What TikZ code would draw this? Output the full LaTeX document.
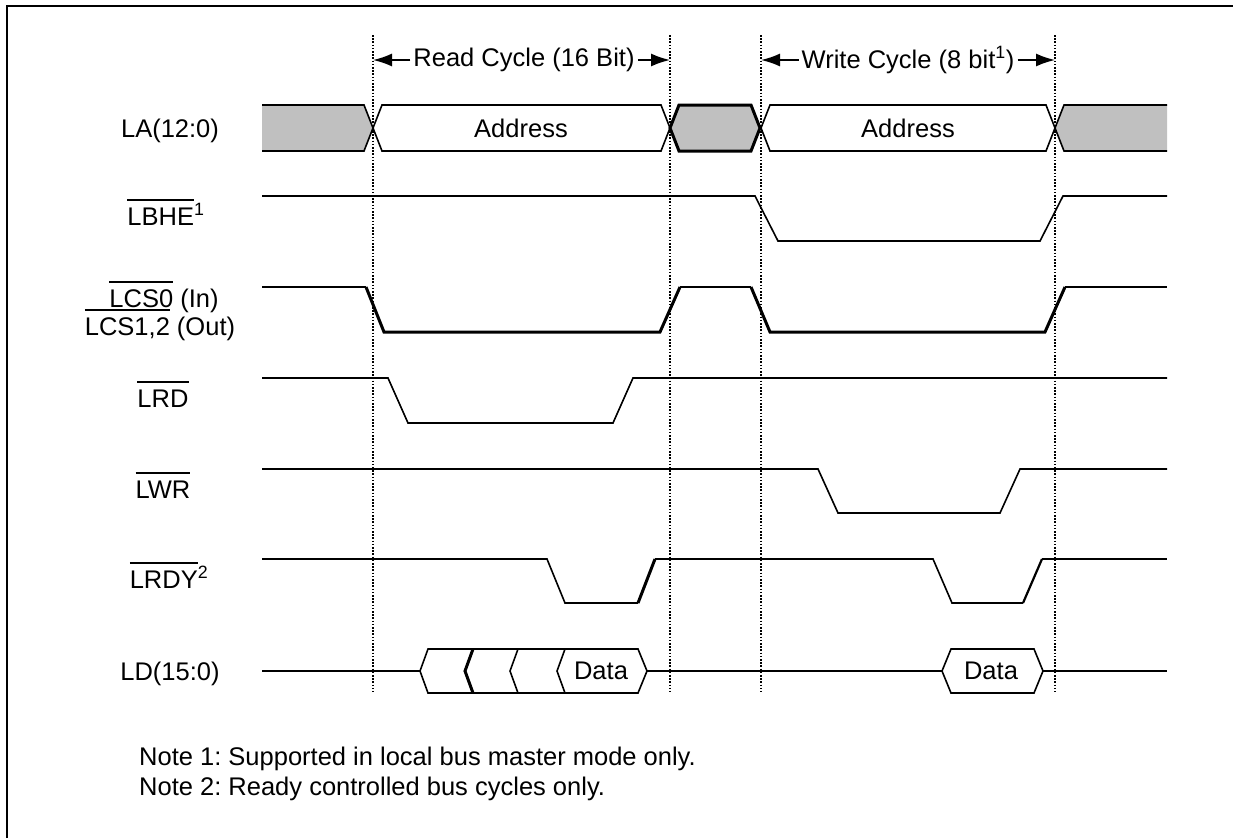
\documentclass[tikz,border=0pt]{standalone}
\usepackage{fontspec}
\setmainfont{Liberation Sans}
\usetikzlibrary{arrows.meta, positioning}

\definecolor{busgray}{RGB}{192,192,192}
\newcommand{\nbar}[1]{\setbox0\hbox{#1}\rlap{\rule[0.96em]{\wd0}{1.5pt}}\box0\relax}

\tikzset{
  sig/.style={line width=1.6pt},
  heavy/.style={line width=3pt},
  cycleline/.style={line width=1.6pt, dash pattern=on 1.6pt off 1.6pt},
  span/.style={line width=1.6pt, -{Latex[length=19pt,width=13pt]}},
  every node/.style={font=\fontsize{25.5}{28}\selectfont\frenchspacing, inner sep=3pt},
  siglabel/.style={anchor=base},
}

\begin{document}
\begin{tikzpicture}[x=1pt, y=-1pt]
    \useasboundingbox (0,0) rectangle (1233,838);
    \draw[line width=2pt] (7,838) -- (7,6) -- (1233,6);

    % cycle boundaries
    \foreach \x in {373, 670, 761, 1055}
        \draw[cycleline] (\x,35) -- (\x,692);

    \node (read) at (524,60) {Read Cycle (16 Bit)};
    \node (write) at (908,60) {Write Cycle (8 bit\textsuperscript{1})};
    \coordinate (r0) at (373,60);
    \coordinate (r1) at (670,60);
    \coordinate (w0) at (761,60);
    \coordinate (w1) at (1055,60);
    \draw[span] (read) -- (r0);
    \draw[span] (read) -- (r1);
    \draw[span] (write) -- (w0);
    \draw[span] (write) -- (w1);

    % signal names
    \node[siglabel] (la) at (170,137) {LA(12:0)};
    \node[siglabel] (lbhe) at (166,225) {\nbar{LBHE}\textsuperscript{1}};
    \node[siglabel] (lcs) at (164,307) {\nbar{LCS0} (In)};
    \node[siglabel] (lcsb) at (160,335) {\nbar{LCS1,2} (Out)};
    \node[siglabel] (lrd) at (163,407) {\nbar{LRD}};
    \node[siglabel] (lwr) at (163,498) {\nbar{LWR}};
    \node[siglabel] (lrdy) at (169,588) {\nbar{LRDY}\textsuperscript{2}};
    \node[siglabel] (ld) at (170,680) {LD(15:0)};

    % LA(12:0)
    \fill[busgray] (262,105) -- (364,105) -- (373,128) -- (364,151) -- (262,151) -- cycle;
    \draw[sig] (262,105) -- (364,105) -- (373,128) -- (364,151) -- (262,151);
    \draw[sig] (373,128) -- (382,105) -- (661,105) -- (670,128) -- (661,151) -- (382,151) -- cycle;
    \node (addr1) at (521,128) {Address};
    \filldraw[heavy, fill=busgray] (670,128) -- (679,105) -- (751,105) -- (760,128) -- (751,151) -- (679,151) -- cycle;
    \draw[sig] (761,128) -- (770,105) -- (1046,105) -- (1055,128) -- (1046,151) -- (770,151) -- cycle;
    \node (addr2) at (908,128) {Address};
    \fill[busgray] (1167,105) -- (1064,105) -- (1055,128) -- (1064,151) -- (1167,151) -- cycle;
    \draw[sig] (1167,105) -- (1064,105) -- (1055,128) -- (1064,151) -- (1167,151);

    % LBHE
    \draw[sig] (262,196) -- (755,196) -- (778,241) -- (1040,241) -- (1063,196) -- (1167,196);

    % LCS
    \draw[sig] (262,287) -- (366,287);
    \draw[heavy] (366,287) -- (384,332) -- (660,332) -- (680,287);
    \draw[sig] (680,287) -- (751,287);
    \draw[heavy] (751,287) -- (770,332) -- (1045,332) -- (1065,287);
    \draw[sig] (1065,287) -- (1167,287);

    % LRD, LWR
    \draw[sig] (262,378) -- (388,378) -- (408,423) -- (613,423) -- (633,378) -- (1167,378);
    \draw[sig] (262,469) -- (818,469) -- (838,513) -- (1000,513) -- (1020,469) -- (1167,469);

    % LRDY
    \draw[sig] (262,559) -- (547,559) -- (565,603) -- (638,603);
    \draw[heavy] (638,603) -- (655,559);
    \draw[sig] (655,559) -- (933,559) -- (952,603) -- (1023,603);
    \draw[line width=2.2pt] (1023,603) -- (1042,559);
    \draw[sig] (1042,559) -- (1167,559);

    % LD(15:0)
    \draw[sig] (262,671) -- (420,671);
    \draw[sig] (420,671) -- (428,649) -- (638,649) -- (647,671) -- (638,693) -- (428,693) -- cycle;
    \draw[heavy] (473,649) -- (465,671) -- (473,693);
    \draw[sig] (518,649) -- (510,671) -- (518,693);
    \draw[sig] (565,649) -- (557,671) -- (565,693);
    \node (data1) at (601,671) {Data};
    \draw[sig] (647,671) -- (942,671);
    \draw[sig] (942,671) -- (951,649) -- (1034,649) -- (1043,671) -- (1034,693) -- (951,693) -- cycle;
    \node (data2) at (991,671) {Data};
    \draw[sig] (1043,671) -- (1167,671);

    % notes
    \node[anchor=west] (note1) at (136,759) {Note 1: Supported in local bus master mode only.};
    \node[anchor=west] (note2) at (136,789) {Note 2: Ready controlled bus cycles only.};
\end{tikzpicture}
\end{document}
